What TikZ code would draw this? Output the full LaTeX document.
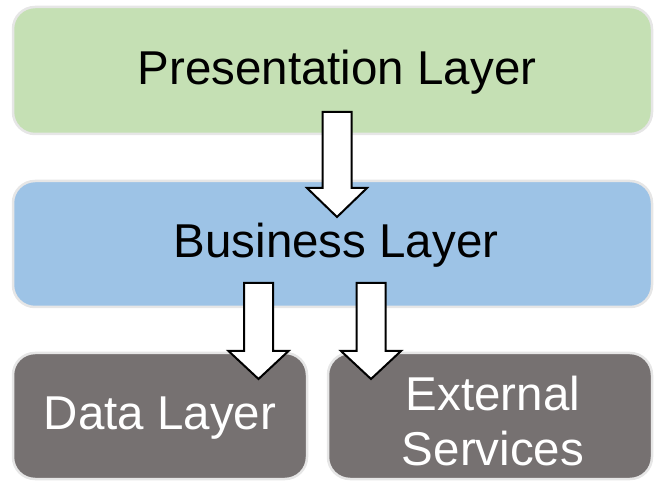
\documentclass[tikz,border=0pt]{standalone}
\usepackage{fontspec}
\setmainfont{Liberation Sans}
\begin{document}
\begin{tikzpicture}[x=1pt,y=-1pt,
  layer/.style={draw=borderGray, line width=2.5pt, rounded corners=22pt},
  layertext/.style={font=\fontsize{47.5}{55}\selectfont, align=center, inner sep=0pt},
  blockarrow/.style={draw=black, fill=white, line width=2pt, line join=miter}]
\definecolor{borderGray}{HTML}{E6E6E6}
\definecolor{presGreen}{HTML}{C5E0B4}
\definecolor{busBlue}{HTML}{9DC3E6}
\definecolor{dataGray}{HTML}{767171}
\useasboundingbox (0,0) rectangle (654,481);

% layer boxes
\draw[layer, fill=presGreen] (13,7) rectangle (652,134);
\draw[layer, fill=busBlue] (13,181) rectangle (652,307);
\draw[layer, fill=dataGray] (13,353) rectangle (307,479);
\draw[layer, fill=dataGray] (328,353) rectangle (652,479);

% labels
\node[layertext] (pres) at (337,72) {Presentation Layer};
\node[layertext] (bus) at (336,245) {Business Layer};
\node[layertext, text=white] (data) at (160,418) {Data Layer};
\node[layertext, text=white] (ext) at (493,421) {External\\Services};

% hollow block arrows: centre x, shaft top, head base, tip
\newcommand\blockdown[4]{%
  \draw[blockarrow] (#1-14.5,#2) -- (#1+14.5,#2) -- (#1+14.5,#3) -- (#1+30,#3)
    -- (#1,#4) -- (#1-30,#3) -- (#1-14.5,#3) -- cycle;}
\blockdown{337}{112}{188}{217}
\blockdown{258.5}{283}{351}{379}
\blockdown{371}{283}{351}{379}
\end{tikzpicture}
\end{document}
